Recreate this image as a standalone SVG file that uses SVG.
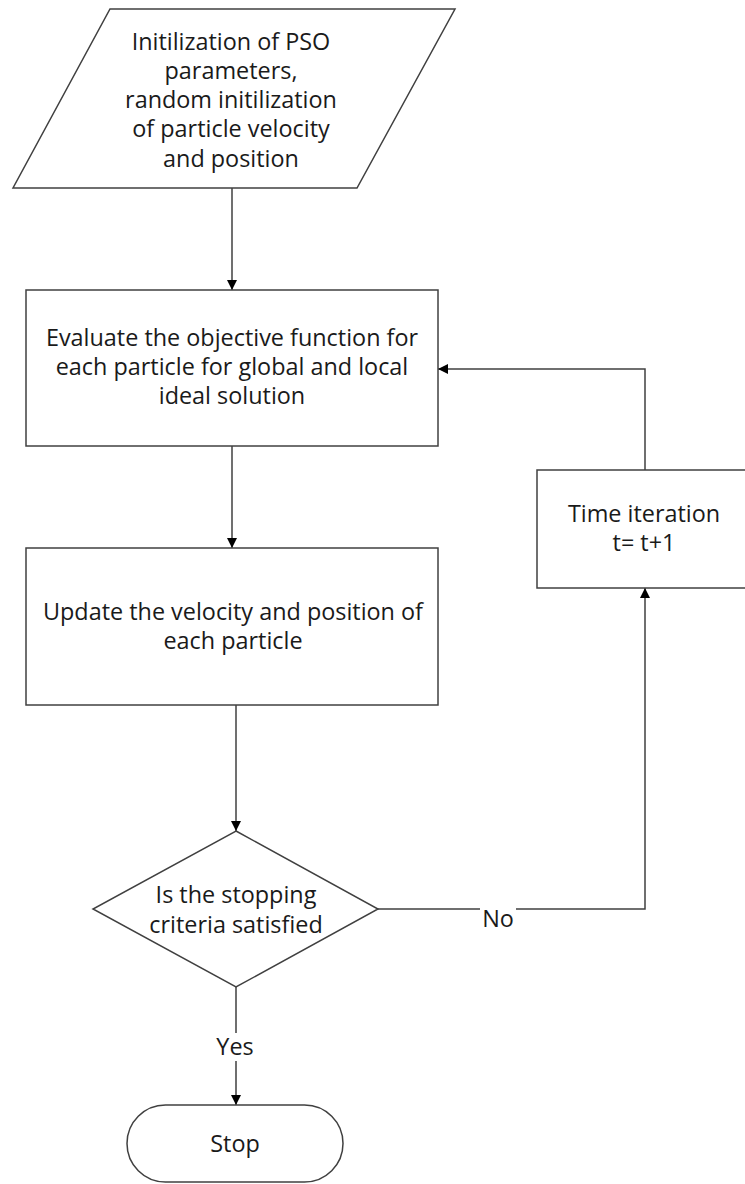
<svg xmlns="http://www.w3.org/2000/svg" width="745" height="1184" viewBox="0 0 745 1184">
<defs>
<marker id="arr" markerWidth="10" markerHeight="10" refX="10" refY="5" orient="auto" markerUnits="userSpaceOnUse">
<path d="M0,0 L10,5 L0,10 Z" fill="#000"/>
</marker>
<style>
.shape{fill:#fff;stroke:#404040;stroke-width:1.5}
.conn{fill:none;stroke:#404040;stroke-width:1.5}
.t{font-family:"Open Sans","Liberation Sans",Arial,sans-serif;font-size:23.4px;fill:#1a1a1a;text-anchor:middle;dominant-baseline:central}
</style>
</defs>
<rect width="745" height="1184" fill="#fff"/>
<g id="connectors">
<path class="conn" d="M232,188 V290" marker-end="url(#arr)"/>
<path class="conn" d="M232,446 V548" marker-end="url(#arr)"/>
<path class="conn" d="M236,705 V831" marker-end="url(#arr)"/>
<path class="conn" d="M378,909 H480 M516,909 H645 V588" marker-end="url(#arr)"/>
<path class="conn" d="M645,470 V369 H438" marker-end="url(#arr)"/>
<path class="conn" d="M236,987 V1033 M236,1061 V1105" marker-end="url(#arr)"/>
<text class="t" x="498" y="918">No</text>
<text class="t" x="235" y="1046">Yes</text>
</g>
<g id="init">
<polygon class="shape" points="110,9 455,9 357,188 13,188"/>
<text class="t" x="231" y="41">Initilization of PSO</text>
<text class="t" x="231" y="70">parameters,</text>
<text class="t" x="231" y="99">random initilization</text>
<text class="t" x="231" y="128">of particle velocity</text>
<text class="t" x="231" y="157.5">and position</text>
</g>
<g id="evaluate">
<rect class="shape" x="26" y="290" width="412" height="156"/>
<text class="t" x="232" y="337">Evaluate the objective function for</text>
<text class="t" x="232" y="366">each particle for global and local</text>
<text class="t" x="232" y="395">ideal solution</text>
</g>
<g id="update">
<rect class="shape" x="26" y="548" width="412" height="157"/>
<text class="t" x="233" y="611">Update the velocity and position of</text>
<text class="t" x="233" y="640">each particle</text>
</g>
<g id="time">
<rect class="shape" x="537" y="470" width="210" height="118"/>
<text class="t" x="644" y="513">Time iteration</text>
<text class="t" x="644" y="542">t= t+1</text>
</g>
<g id="decision">
<polygon class="shape" points="236,831 378,909 236,987 93,909"/>
<text class="t" x="236" y="894">Is the stopping</text>
<text class="t" x="236" y="923.5">criteria satisfied</text>
</g>
<g id="stop">
<rect class="shape" x="127" y="1105" width="216" height="77" rx="38.5"/>
<text class="t" x="235" y="1143">Stop</text>
</g>
</svg>
